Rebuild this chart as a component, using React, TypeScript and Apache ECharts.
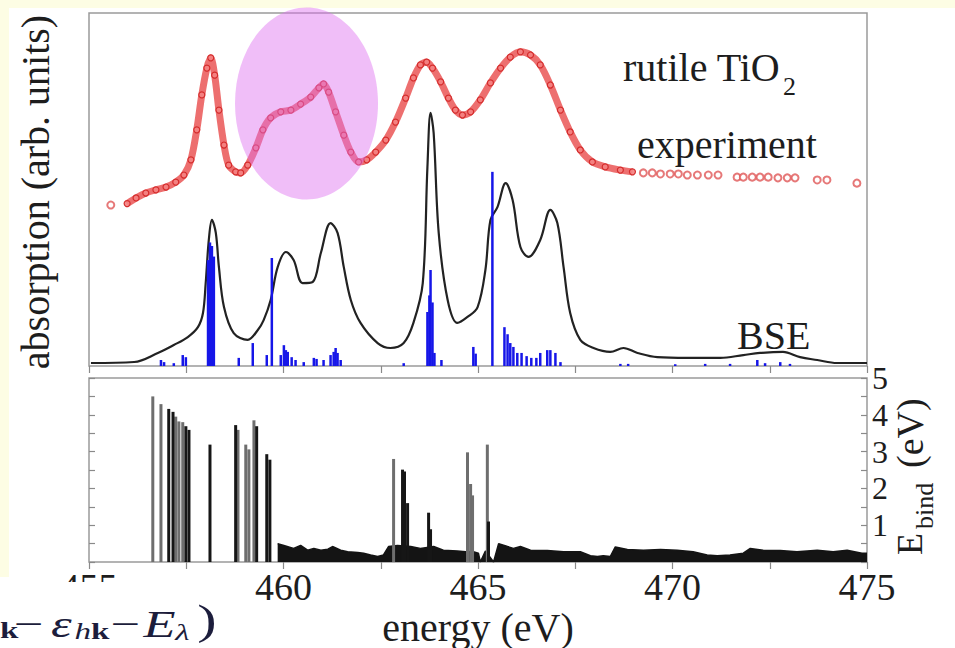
import React, { useEffect, useRef } from "react";
import * as echarts from "echarts";

// Energy axis (eV)
const energyMin = 455;
const energyMax = 475;
const energyTickStep = 2.5;
const energyLabelStep = 5;

// Binding-energy axis (eV)
const bindMin = 0;
const bindMax = 5;

// Measured Ti L-edge absorption, rutile TiO2 (dense part of the scan)
const experimentCurve: [number, number][] = [
  [455.98, 46.0], [456.21, 47.6], [456.46, 49.0],
  [456.72, 49.9], [456.98, 50.7], [457.23, 52.1], [457.44, 54.1], [457.62, 58.4],
  [457.77, 66.9], [457.9, 76.8], [458.03, 84.4], [458.13, 87.3], [458.23, 82.4],
  [458.34, 72.5], [458.47, 62.6], [458.59, 56.9], [458.77, 55.0], [458.9, 54.7],
  [459.08, 56.9], [459.29, 61.8], [459.47, 66.9], [459.67, 70.3], [459.93, 72.0],
  [460.19, 72.5], [460.44, 74.2], [460.7, 76.2], [460.91, 78.8], [461.03, 79.9],
  [461.16, 77.6], [461.34, 72.0], [461.55, 65.4], [461.73, 60.6], [461.93, 57.8],
  [462.14, 58.4], [462.37, 60.6], [462.63, 64.0], [462.88, 69.1], [463.14, 75.9],
  [463.34, 81.6], [463.52, 85.3], [463.68, 86.1], [463.83, 84.4], [464.04, 80.5],
  [464.24, 75.9], [464.42, 72.5], [464.6, 71.1], [464.81, 72.0], [465.06, 75.4],
  [465.32, 80.2], [465.58, 84.4], [465.83, 87.5], [466.09, 89.0], [466.35, 88.1],
  [466.6, 85.3], [466.86, 79.6], [467.12, 72.5], [467.37, 66.3], [467.63, 61.2],
  [467.94, 57.8], [468.27, 56.4], [468.66, 55.5], [468.97, 55.0],
];

// Sparse points of the measured scan
const experimentTail: [number, number][] = [
  [455.56, 45.6],
  [469.25, 54.7], [469.48, 54.7], [469.69, 54.4], [469.94, 54.4], [470.15, 54.4],
  [470.38, 54.1], [470.64, 54.1], [470.92, 54.1], [471.17, 54.1], [471.66, 53.5],
  [471.82, 53.5], [472.05, 53.5], [472.25, 53.5], [472.46, 53.5], [472.71, 53.3],
  [472.95, 53.3], [473.15, 53.3], [473.72, 52.7], [473.97, 52.7], [474.74, 51.8],
];

// Broadened BSE spectrum
const bseSpectrum: [number, number][] = [
  [455.05, 0.85], [456.16, 1.13], [456.77, 3.68], [457.18, 5.95], [457.54, 8.2],
  [457.8, 11.0], [457.93, 15.0], [458.0, 23.5], [458.08, 35.7], [458.16, 41.4],
  [458.26, 37.7], [458.34, 28.0], [458.47, 16.7], [458.72, 9.3], [459.08, 7.4],
  [459.34, 10.2], [459.49, 13.0], [459.67, 18.7], [459.85, 28.0], [460.06, 32.3],
  [460.26, 30.0], [460.49, 23.5], [460.75, 23.8], [460.96, 32.0], [461.21, 40.5],
  [461.39, 37.7], [461.55, 28.0], [461.73, 18.7], [461.98, 12.2], [462.42, 6.5],
  [462.75, 5.1], [463.09, 6.5], [463.34, 12.2], [463.58, 23.5], [463.7, 56.4],
  [463.78, 71.7], [463.86, 66.0], [463.99, 37.7], [464.22, 18.7], [464.47, 12.2],
  [464.73, 13.9], [464.99, 16.7], [465.19, 27.2], [465.32, 41.4], [465.5, 45.0],
  [465.71, 51.8], [465.89, 47.0], [466.09, 33.7], [466.3, 30.9], [466.6, 35.7],
  [466.86, 44.2], [467.04, 40.5], [467.2, 28.0], [467.37, 15.0], [467.63, 7.4],
  [467.97, 5.1], [468.4, 4.0], [468.74, 5.1], [469.1, 3.7], [469.61, 2.5],
  [470.38, 2.3], [471.23, 2.3], [471.82, 3.1], [472.25, 3.7], [472.84, 4.0],
  [473.28, 2.5], [473.72, 1.7], [474.23, 0.85], [475.0, 0.85],
];

// BSE oscillator strengths (sticks)
const bseSticks: [number, number][] = [
  [456.85, 1.7], [456.93, 1.1], [457.18, 0.8], [457.41, 3.1], [457.49, 2.5],
  [458.06, 30.0], [458.11, 35.0], [458.16, 34.0], [458.21, 31.0],
  [458.85, 2.3], [459.21, 6.5], [459.57, 3.1], [459.7, 30.6],
  [459.93, 3.1], [460.01, 5.9], [460.06, 4.5], [460.11, 4.0], [460.21, 2.5],
  [460.31, 1.7], [460.52, 1.1], [460.78, 2.3], [460.85, 2.0], [461.03, 1.7],
  [461.21, 3.1], [461.29, 4.0], [461.34, 5.1], [461.39, 3.7], [461.47, 1.7],
  [463.09, 0.8], [463.7, 15.3], [463.75, 20.0], [463.78, 27.2], [463.83, 18.0],
  [463.88, 3.7], [464.06, 1.7], [464.88, 5.4], [464.94, 3.5],
  [465.37, 55.0], [465.68, 11.0], [465.76, 9.0], [465.83, 6.5], [465.91, 5.4],
  [466.01, 3.7], [466.12, 3.7], [466.25, 2.8], [466.37, 2.3], [466.5, 2.3],
  [466.6, 3.7], [466.78, 4.5], [466.86, 4.5], [466.99, 3.7], [467.12, 1.1],
  [468.66, 0.6], [468.86, 0.6], [470.07, 0.5], [470.84, 0.6], [471.48, 0.6],
  [472.18, 1.7], [472.38, 0.8], [472.77, 1.1], [473.02, 0.6],
];

// Exciton binding energies, strongly bound states (lighter and darker lines)
const bindGray: [number, number][] = [
  [456.64, 4.5], [456.85, 4.29], [457.23, 3.95], [457.31, 3.82], [457.41, 3.8],
  [458.83, 3.59], [459.03, 3.19], [459.11, 3.06], [459.24, 3.85],
  [462.83, 2.8], [464.73, 2.98], [464.81, 2.12], [464.86, 1.81], [465.24, 3.19],
];
const bindBlack: [number, number][] = [
  [457.05, 4.16], [457.16, 4.08], [457.49, 3.69], [457.57, 3.59], [458.11, 3.19],
  [458.77, 3.72], [459.31, 3.69], [459.57, 2.93], [459.65, 2.78],
  [463.06, 2.51], [463.11, 2.46], [463.19, 1.6], [463.73, 1.34], [463.78, 0.89],
  [465.27, 1.1],
];

// Weakly bound continuum of states
const bindContinuum: [number, number][] = [
  [459.85, 0.5], [460.01, 0.45], [460.26, 0.37], [460.44, 0.45], [460.62, 0.32],
  [460.78, 0.37], [460.96, 0.32], [461.14, 0.35], [461.26, 0.42], [461.47, 0.32],
  [461.65, 0.28], [461.91, 0.26], [462.06, 0.24], [462.24, 0.19], [462.42, 0.15],
  [462.57, 0.19], [462.7, 0.42], [462.93, 0.45], [463.27, 0.42], [463.52, 0.37],
  [463.86, 0.42], [464.11, 0.32], [464.47, 0.3], [464.68, 0.28], [464.88, 0.28],
  [465.01, 0.24], [465.06, 0], [465.19, 0.3], [465.4, 0], [465.53, 0.5],
  [465.76, 0.42], [465.91, 0.37], [466.09, 0.42], [466.35, 0.32], [466.78, 0.31],
  [467.2, 0.28], [467.63, 0.28], [467.89, 0.17], [468.07, 0.15], [468.22, 0.17],
  [468.4, 0.15], [468.53, 0.41], [468.84, 0.34], [469.25, 0.32], [469.69, 0.34],
  [470.12, 0.32], [470.53, 0.28], [470.89, 0.19], [471.15, 0.17], [471.48, 0.19],
  [471.82, 0.24], [472.0, 0.37], [472.33, 0.32], [472.77, 0.31], [473.2, 0.28],
  [473.72, 0.32], [474.13, 0.28], [474.49, 0.32], [474.87, 0.24], [475.0, 0.24],
];

const serif = "'Liberation Serif', 'Times New Roman', serif";
const ink = "#1d1d1d";
const formulaInk = "#1c1d3c";
const frameColor = "#9a9a9a";
const slideYellow = "#fdfde4";

function middleText(x: number, y: number, text: string, font: string, fill: string, z = 10) {
  return {
    type: "text",
    x,
    y,
    z,
    style: { text, font, fill, textVerticalAlign: "middle", verticalAlign: "middle" },
  };
}

function buildOption(): echarts.EChartsCoreOption {
  const innerTicks = {
    inside: true,
    length: 7,
    lineStyle: { color: "#8a8a8a", width: 1.2 },
  };
  const energyBase = {
    type: "value",
    min: energyMin,
    max: energyMax,
    splitLine: { show: false },
    axisLine: { show: false },
  };
  const bindBase = {
    type: "value",
    min: bindMin,
    max: bindMax,
    interval: 0.5,
    splitLine: { show: false },
    axisLine: { show: false },
    axisTick: { ...innerTicks, length: 6 },
  };

  return {
    animation: false,
    backgroundColor: "#ffffff",
    grid: [
      { left: 89, right: 88, top: 13, height: 353, show: true, borderColor: frameColor, borderWidth: 1.5, backgroundColor: "transparent" },
      { left: 89, right: 88, top: 378, height: 191, show: true, borderColor: frameColor, borderWidth: 1.5, backgroundColor: "transparent" },
    ],
    xAxis: [
      { ...energyBase, gridIndex: 0, position: "top", interval: energyTickStep, axisTick: innerTicks, axisLabel: { show: false } },
      { ...energyBase, gridIndex: 1, position: "top", interval: energyTickStep, axisTick: innerTicks, axisLabel: { show: false } },
      {
        ...energyBase,
        gridIndex: 1,
        position: "bottom",
        interval: energyLabelStep,
        axisTick: { show: false },
        axisLabel: { show: true, fontFamily: serif, fontSize: 38, color: ink, margin: 6, showMinLabel: true, showMaxLabel: true },
        name: "energy (eV)",
        nameLocation: "middle",
        nameGap: 45,
        nameTextStyle: { fontFamily: serif, fontSize: 40, color: ink },
      },
    ],
    yAxis: [
      { type: "value", gridIndex: 0, min: 0, max: 100, show: false },
      { ...bindBase, gridIndex: 1, position: "left", axisLabel: { show: false } },
      {
        ...bindBase,
        gridIndex: 1,
        position: "right",
        axisLabel: {
          show: true,
          fontFamily: serif,
          fontSize: 32,
          color: ink,
          margin: 5,
          showMaxLabel: true,
          formatter: (v: number) => (Number.isInteger(v) && v > 0 ? String(v) : ""),
        },
      },
    ],
    series: [
      {
        name: "experiment",
        type: "line",
        xAxisIndex: 0,
        yAxisIndex: 0,
        data: experimentCurve,
        smooth: 0.3,
        symbol: "circle",
        symbolSize: 6,
        showSymbol: true,
        lineStyle: { color: "rgba(232,70,70,0.78)", width: 7 },
        itemStyle: { color: "rgba(244,130,130,0.9)", borderColor: "#d42c2c", borderWidth: 1.2 },
        z: 3,
      },
      {
        name: "experiment tail",
        type: "scatter",
        xAxisIndex: 0,
        yAxisIndex: 0,
        data: experimentTail,
        symbol: "emptyCircle",
        symbolSize: 7,
        itemStyle: { color: "#e05656", borderWidth: 1.2 },
        z: 3,
      },
      {
        name: "BSE",
        type: "line",
        xAxisIndex: 0,
        yAxisIndex: 0,
        data: bseSpectrum,
        smooth: 0.35,
        symbol: "none",
        lineStyle: { color: "#222222", width: 2.2 },
        z: 4,
      },
      {
        name: "oscillator strength",
        type: "bar",
        xAxisIndex: 0,
        yAxisIndex: 0,
        data: bseSticks,
        barWidth: 2.5,
        barGap: "-100%",
        itemStyle: { color: "#1616e8" },
        z: 5,
      },
      {
        name: "continuum",
        type: "line",
        xAxisIndex: 2,
        yAxisIndex: 1,
        data: bindContinuum,
        symbol: "none",
        lineStyle: { color: "#141414", width: 1.5 },
        areaStyle: { color: "#141414", opacity: 1 },
        z: 3,
      },
      {
        name: "binding light",
        type: "bar",
        xAxisIndex: 2,
        yAxisIndex: 1,
        data: bindGray,
        barWidth: 3,
        barGap: "-100%",
        itemStyle: { color: "#6e6e6e" },
        z: 4,
      },
      {
        name: "binding dark",
        type: "bar",
        xAxisIndex: 2,
        yAxisIndex: 1,
        data: bindBlack,
        barWidth: 3,
        barGap: "-100%",
        itemStyle: { color: "#161616" },
        z: 4,
      },
    ],
    graphic: [
      { type: "rect", z: 0, shape: { x: 0, y: 0, width: 955, height: 8 }, style: { fill: slideYellow } },
      { type: "rect", z: 0, shape: { x: 0, y: 0, width: 9, height: 577 }, style: { fill: slideYellow } },
      {
        type: "text",
        x: 35,
        y: 192,
        rotation: Math.PI / 2,
        style: { text: "absorption (arb. units)", font: `40px ${serif}`, fill: ink, textAlign: "center", textVerticalAlign: "middle", align: "center", verticalAlign: "middle" },
      },
      middleText(623, 67, "rutile TiO", `40px ${serif}`, ink),
      middleText(783, 86, "2", `26px ${serif}`, ink),
      middleText(637, 144, "experiment", `40px ${serif}`, ink),
      middleText(737, 335, "BSE", `40px ${serif}`, ink),
      {
        type: "group",
        x: 910,
        y: 556,
        rotation: Math.PI / 2,
        children: [
          middleText(1, 0, "E", `36px ${serif}`, ink),
          middleText(27, 14, "bind", `26px ${serif}`, ink),
          middleText(88, 0, "(eV)", `38px ${serif}`, ink),
        ],
      },
      // highlighted region of the spectrum
      {
        type: "ellipse",
        z: 100,
        shape: { cx: 306.5, cy: 103.5, rx: 71.5, ry: 96 },
        style: { fill: "rgba(222,110,240,0.45)" },
      },
      // formula strip at the foot of the slide
      { type: "rect", z: 100, shape: { x: 0, y: 582, width: 250, height: 66 }, style: { fill: "#ffffff" } },
      {
        type: "group",
        x: 0,
        y: 0,
        scaleX: 1.38,
        z: 101,
        children: [
          middleText(0, 630, "k", `bold 24px ${serif}`, formulaInk, 101),
          middleText(10, 624, "−", `38px ${serif}`, formulaInk, 101),
          middleText(37, 624, "ε", `italic 38px ${serif}`, formulaInk, 101),
          middleText(54, 631, "h", `italic 24px ${serif}`, formulaInk, 101),
          middleText(66, 631, "k", `bold 24px ${serif}`, formulaInk, 101),
          middleText(80, 624, "−", `38px ${serif}`, formulaInk, 101),
          middleText(104, 624, "E", `italic 38px ${serif}`, formulaInk, 101),
          middleText(127, 632, "λ", `italic 24px ${serif}`, formulaInk, 101),
          middleText(143, 620, ")", `42px ${serif}`, formulaInk, 101),
        ],
      },
    ],
  };
}

export default function App() {
  const ref = useRef<HTMLDivElement>(null);
  useEffect(() => {
    if (!ref.current) return;
    const chart = echarts.init(ref.current, undefined, { renderer: "svg" });
    chart.setOption(buildOption());
    return () => chart.dispose();
  }, []);
  return (
    <div
      ref={ref}
      style={{ width: 955, height: 648, position: "absolute", left: 0, top: 0 }}
    />
  );
}
